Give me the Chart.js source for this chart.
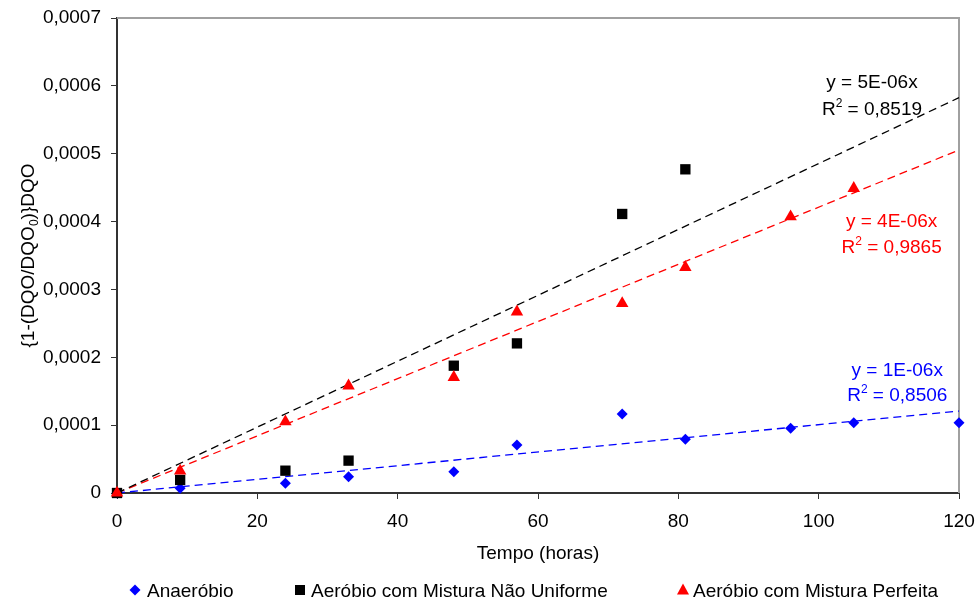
<!DOCTYPE html>
<html>
<head>
<meta charset="utf-8">
<script src="https://cdn.jsdelivr.net/npm/chart.js@4/dist/chart.umd.min.js"></script>
<style>
html,body{margin:0;padding:0;background:#fff;}
#wrap{width:977px;height:601px;position:relative;}
</style>
</head>
<body>
<div id="wrap"><canvas id="c" width="977" height="601"></canvas></div>
<script>
const FONT = "'Liberation Sans', Arial, sans-serif";

// ---- data ----
const seriesNames = ['Anaeróbio', 'Aeróbio com Mistura Não Uniforme', 'Aeróbio com Mistura Perfeita'];
const seriesColors = ['#0000ff', '#000000', '#ff0000'];

const anaerobioX = [0, 9, 24, 33, 48, 57, 72, 81, 96, 105, 120];
const anaerobioY = [0, 0.000007, 0.0000143, 0.000024, 0.0000314, 0.0000707, 0.0001164, 0.0000791, 0.0000953, 0.0001036, 0.0001036];

const naoUniformeX = [0, 9, 24, 33, 48, 57, 72, 81];
const naoUniformeY = [0, 0.0000192, 0.0000329, 0.0000477, 0.0001876, 0.0002205, 0.0004112, 0.000477];

const perfeitaX = [0, 9, 24, 33, 48, 57, 72, 81, 96, 105];
const perfeitaY = [0, 0.0000324, 0.000105, 0.000158, 0.0001705, 0.000267, 0.0002795, 0.0003326, 0.0004072, 0.000449];

// trend lines (through origin), start and end points
const trendX = [0, 120];
const trendAnaerobioY = [0, 0.0001208];
const trendNaoUniformeY = [0, 0.0005826];
const trendPerfeitaY = [0, 0.0005055];

const trendEquations = ['y = 1E-06x', 'y = 5E-06x', 'y = 4E-06x'];
const trendR2 = ['0,8506', '0,8519', '0,9865'];

const xTickValues = [0, 20, 40, 60, 80, 100, 120];
const yTickValues = [0, 0.0001, 0.0002, 0.0003, 0.0004, 0.0005, 0.0006, 0.0007];
const yTickLabels = ['0', '0,0001', '0,0002', '0,0003', '0,0004', '0,0005', '0,0006', '0,0007'];

const xTitle = 'Tempo (horas)';
const yTitleParts = ['{1-(DQO/DQO', '0', ')}DQO'];

function pts(xs, ys) { return xs.map((x, i) => ({ x: x, y: ys[i] })); }

const pointStyles = ['rectRot', 'rect', 'triangle'];
const pointRadii = [5.5, 7.3, 7.2];

function trendDs(ys, color) {
  return {
    type: 'line', data: pts(trendX, ys), showLine: true, borderColor: color, borderWidth: 1.3,
    borderDash: [8, 5], pointRadius: 0, fill: false, order: 10, clip: false
  };
}
function markerDs(i, xs, ys, order) {
  return {
    label: seriesNames[i], data: pts(xs, ys), showLine: false,
    backgroundColor: seriesColors[i], borderColor: seriesColors[i], borderWidth: 0,
    pointStyle: pointStyles[i], pointRadius: pointRadii[i], pointHoverRadius: pointRadii[i],
    order: order, clip: false
  };
}

const customDraw = {
  id: 'customDraw',
  beforeDatasetsDraw(chart) {
    const ctx = chart.ctx, a = chart.chartArea;
    ctx.save();
    ctx.strokeStyle = '#a0a0a0';
    ctx.lineWidth = 2;
    ctx.beginPath();
    ctx.moveTo(a.left, a.top);
    ctx.lineTo(a.right, a.top);
    ctx.lineTo(a.right, a.bottom);
    ctx.stroke();
    ctx.restore();
  },
  afterDraw(chart) {
    const ctx = chart.ctx, a = chart.chartArea;
    const xs = chart.scales.x, ys = chart.scales.y;
    ctx.save();
    ctx.textBaseline = 'alphabetic';

    // x title
    ctx.font = '19px ' + FONT;
    ctx.fillStyle = '#000';
    ctx.textAlign = 'center';
    ctx.fillText(xTitle, (a.left + a.right) / 2, 559);

    // y title (rotated, with subscript)
    ctx.save();
    ctx.translate(34, (a.top + a.bottom) / 2);
    ctx.rotate(-Math.PI / 2);
    ctx.textAlign = 'left';
    const big = '19px ' + FONT, small = '12px ' + FONT;
    ctx.font = big; const w0 = ctx.measureText(yTitleParts[0]).width;
    ctx.font = small; const w1 = ctx.measureText(yTitleParts[1]).width;
    ctx.font = big; const w2 = ctx.measureText(yTitleParts[2]).width;
    let sx = -(w0 + w1 + w2) / 2;
    ctx.font = big; ctx.fillText(yTitleParts[0], sx, 0); sx += w0;
    ctx.font = small; ctx.fillText(yTitleParts[1], sx, 4); sx += w1;
    ctx.font = big; ctx.fillText(yTitleParts[2], sx, 0);
    ctx.restore();

    // trend annotations
    const ann = [
      { i: 1, x: 107.6, y1: 0.000597, y2: 0.000557 },
      { i: 2, x: 110.4, y1: 0.000392, y2: 0.0003537 },
      { i: 0, x: 111.2, y1: 0.0001724, y2: 0.0001356 }
    ];
    ann.forEach(o => {
      const cx = xs.getPixelForValue(o.x);
      ctx.fillStyle = seriesColors[o.i];
      ctx.font = big;
      ctx.textAlign = 'center';
      ctx.fillText(trendEquations[o.i], cx, ys.getPixelForValue(o.y1));
      const by = ys.getPixelForValue(o.y2);
      ctx.textAlign = 'left';
      ctx.font = big; const wa = ctx.measureText('R').width;
      ctx.font = small; const wb = ctx.measureText('2').width;
      const rest = ' = ' + trendR2[o.i];
      ctx.font = big; const wc = ctx.measureText(rest).width;
      let px = cx - (wa + wb + wc) / 2;
      ctx.font = big; ctx.fillText('R', px, by); px += wa;
      ctx.font = small; ctx.fillText('2', px, by - 8); px += wb;
      ctx.font = big; ctx.fillText(rest, px, by);
    });

    // legend
    const leg = [
      { i: 0, mx: 135, tx: 147 },
      { i: 1, mx: 300, tx: 311 },
      { i: 2, mx: 683, tx: 693 }
    ];
    const my = 590;
    leg.forEach(l => {
      ctx.fillStyle = seriesColors[l.i];
      ctx.beginPath();
      if (l.i === 0) {
        const r = 5.5;
        ctx.moveTo(l.mx, my - r); ctx.lineTo(l.mx + r, my); ctx.lineTo(l.mx, my + r); ctx.lineTo(l.mx - r, my);
      } else if (l.i === 1) {
        ctx.rect(l.mx - 5, my - 5, 10, 10);
      } else {
        ctx.moveTo(l.mx, my - 6.5); ctx.lineTo(l.mx + 6, my + 4.5); ctx.lineTo(l.mx - 6, my + 4.5);
      }
      ctx.closePath();
      ctx.fill();
      ctx.fillStyle = '#000';
      ctx.font = big;
      ctx.textAlign = 'left';
      ctx.fillText(seriesNames[l.i], l.tx, 597);
    });
    ctx.restore();
  }
};

new Chart(document.getElementById('c'), {
  type: 'scatter',
  data: {
    datasets: [
      trendDs(trendAnaerobioY, seriesColors[0]),
      trendDs(trendNaoUniformeY, seriesColors[1]),
      trendDs(trendPerfeitaY, seriesColors[2]),
      markerDs(0, anaerobioX, anaerobioY, 3),
      markerDs(1, naoUniformeX, naoUniformeY, 2),
      markerDs(2, perfeitaX, perfeitaY, 1)
    ]
  },
  options: {
    responsive: false,
    animation: false,
    devicePixelRatio: 1,
    layout: { padding: { left: 0, right: 18, top: 18, bottom: 0 } },
    plugins: { legend: { display: false }, tooltip: { enabled: false }, title: { display: false } },
    scales: {
      x: {
        type: 'linear', min: 0, max: 120,
        afterBuildTicks: s => { s.ticks = xTickValues.map(v => ({ value: v })); },
        ticks: { color: '#000', font: { family: FONT, size: 19 }, padding: 11, maxRotation: 0,
                 callback: v => String(v) },
        grid: { drawOnChartArea: false, drawTicks: true, tickLength: 6, color: '#333', lineWidth: 1 },
        border: { display: true, color: '#333', width: 2 },
        afterFit: s => { s.height = 108; s.paddingLeft = 0; s.paddingRight = 0; }
      },
      y: {
        type: 'linear', min: 0, max: 0.0007,
        afterBuildTicks: s => { s.ticks = yTickValues.map(v => ({ value: v })); },
        ticks: { color: '#000', font: { family: FONT, size: 19 }, padding: 10,
                 callback: (v, i) => yTickLabels[i] },
        grid: { drawOnChartArea: false, drawTicks: true, tickLength: 6, color: '#333', lineWidth: 1 },
        border: { display: true, color: '#333', width: 2 },
        afterFit: s => { s.width = 117; s.paddingTop = 0; s.paddingBottom = 0; }
      }
    }
  },
  plugins: [customDraw]
});
</script>
</body>
</html>
